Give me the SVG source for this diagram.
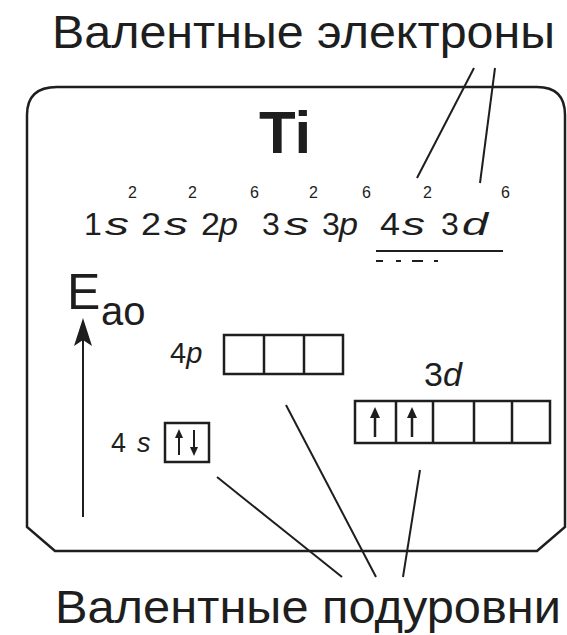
<svg xmlns="http://www.w3.org/2000/svg" width="567" height="635" viewBox="0 0 567 635">
<style>
text{font-family:"Liberation Sans","DejaVu Sans",sans-serif;fill:#1e1e1e}
.lbl{font-size:46px}
.cfg{font-size:32px}
.sup{font-size:16px}
.it{font-style:italic}
.sub{font-size:27px}
.box{fill:none;stroke:#1e1e1e;stroke-width:2.5}
.ln{fill:none;stroke:#1e1e1e;stroke-width:2}
</style>
<defs>
<g id="up"><line x1="0" y1="8" x2="0" y2="30" stroke="#1e1e1e" stroke-width="2.5"/><polygon points="0,0 -5,11 5,11" fill="#1e1e1e"/></g>
<g id="upS"><line x1="0" y1="6" x2="0" y2="26" stroke="#1e1e1e" stroke-width="2"/><polygon points="0,0 -4,9 4,9" fill="#1e1e1e"/></g>
</defs>
<rect width="567" height="635" fill="#fff"/>
<g id="label-valence-electrons"><text class="lbl" x="52" y="48" textLength="503" lengthAdjust="spacingAndGlyphs">Валентные электроны</text></g>
<g id="frame"><path class="box" d="M57,87 H537 Q565,87 565,115 V527 L537,551 H55 L27,527 V115 Q27,87 57,87 Z"/></g>
<g id="element"><text x="259" y="153" font-size="60" font-weight="bold">Ti</text></g>
<g id="configuration">
<text class="cfg" x="84" y="235">1</text>
<text class="cfg it" x="105" y="235" textLength="24" lengthAdjust="spacingAndGlyphs">s</text>
<text class="cfg" x="141" y="235" textLength="20" lengthAdjust="spacingAndGlyphs">2</text>
<text class="cfg it" x="164" y="235" textLength="24" lengthAdjust="spacingAndGlyphs">s</text>
<text class="cfg" x="201" y="235" textLength="19" lengthAdjust="spacingAndGlyphs">2</text>
<text class="cfg it" x="219" y="235" textLength="19" lengthAdjust="spacingAndGlyphs">p</text>
<text class="cfg" x="262" y="235">3</text>
<text class="cfg it" x="284" y="235" textLength="25" lengthAdjust="spacingAndGlyphs">s</text>
<text class="cfg" x="322" y="235">3</text>
<text class="cfg it" x="339" y="235" textLength="19" lengthAdjust="spacingAndGlyphs">p</text>
<text class="cfg" x="380" y="235" textLength="20" lengthAdjust="spacingAndGlyphs">4</text>
<text class="cfg it" x="402" y="235" textLength="23" lengthAdjust="spacingAndGlyphs">s</text>
<text class="cfg" x="441" y="235">3</text>
<text class="cfg it" x="462" y="235" textLength="26" lengthAdjust="spacingAndGlyphs">d</text>
<text class="sup" y="198"><tspan x="128">2</tspan><tspan x="188">2</tspan><tspan x="250">6</tspan><tspan x="309">2</tspan><tspan x="362">6</tspan><tspan x="423">2</tspan><tspan x="501">6</tspan></text>
<line class="ln" x1="376" y1="251" x2="503" y2="251" stroke-width="2.5"/>
<path class="ln" d="M376,261 H383 M396,261 H401 M412,261 H423 M434,261 H438" stroke-width="2.5"/>
</g>
<g id="energy-axis">
<text x="67" y="309" font-size="50">E</text><text x="101" y="325" font-size="40">ao</text>
<line class="ln" x1="83" y1="338" x2="83" y2="517" stroke-width="2.5"/>
<polygon points="83,318 74,346 83,340 92,346" fill="#1e1e1e"/>
</g>
<g id="sublevel-4p">
<text x="170" y="363" font-size="29">4<tspan class="it">p</tspan></text>
<rect class="box" x="224" y="335" width="119" height="39"/>
<path class="box" d="M264,335 V374 M304,335 V374"/>
</g>
<g id="sublevel-3d">
<text font-size="34" x="424" y="386">3<tspan class="it">d</tspan></text>
<rect class="box" x="355" y="401" width="195" height="42"/>
<path class="box" d="M396,401 V443 M433,401 V443 M474,401 V443 M512,401 V443"/>
<use href="#up" x="375" y="407"/>
<use href="#up" x="412" y="407"/>
</g>
<g id="sublevel-4s">
<text class="sub" y="452"><tspan x="111">4</tspan><tspan x="137" class="it">s</tspan></text>
<rect class="box" x="165" y="423" width="44" height="39"/>
<use href="#upS" x="179" y="429"/>
<use href="#upS" transform="translate(194,456) scale(1,-1)"/>
</g>
<g id="label-valence-sublevels"><text class="lbl" x="55" y="623" textLength="506" lengthAdjust="spacingAndGlyphs">Валентные подуровни</text></g>
<g id="connectors">
<line class="ln" x1="474" y1="68" x2="417" y2="178"/>
<line class="ln" x1="495" y1="68" x2="480" y2="183"/>
<line class="ln" x1="217" y1="477" x2="342" y2="577"/>
<line class="ln" x1="286" y1="405" x2="376" y2="577"/>
<line class="ln" x1="420" y1="470" x2="403" y2="577"/>
</g>
</svg>
